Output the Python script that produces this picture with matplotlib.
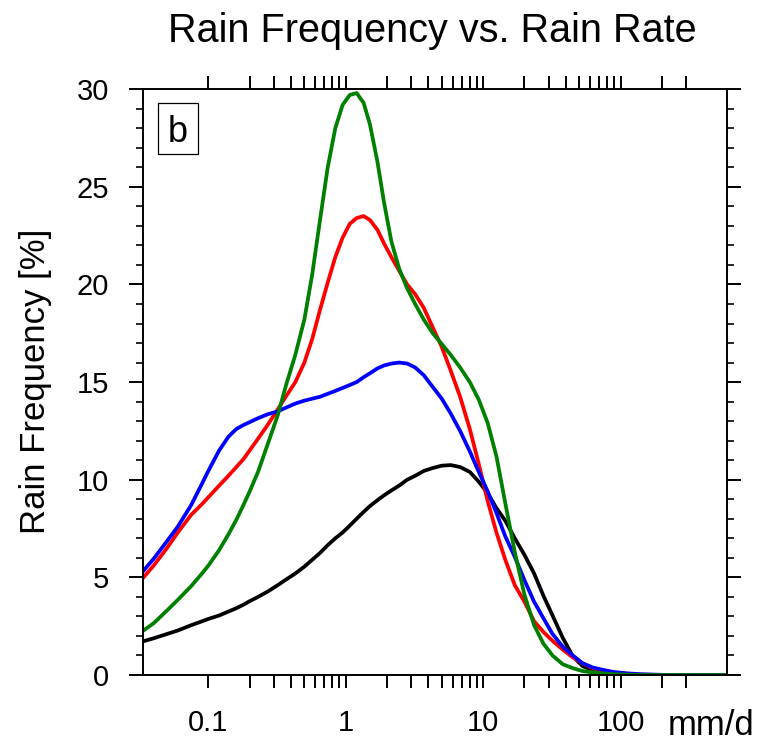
import matplotlib
matplotlib.use("Agg")
import matplotlib.pyplot as plt
from matplotlib.patches import Rectangle
from matplotlib.ticker import FixedLocator, NullFormatter

plt.rcParams['font.family'] = ['Liberation Sans', 'DejaVu Sans']

# rain rate (mm/d) and frequency (%)
rate = [0.0333, 0.04, 0.05, 0.06, 0.075, 0.09, 0.1, 0.12, 0.14, 0.16, 0.18, 0.2, 0.23, 0.27,
        0.32, 0.37, 0.43, 0.5, 0.57, 0.65, 0.74, 0.84, 0.95, 1.07, 1.2, 1.35, 1.5, 1.7, 1.9,
        2.15, 2.45, 2.8, 3.2, 3.7, 4.3, 5.0, 5.8, 6.8, 8.0, 9.3, 10.8, 12.5, 14.5, 17, 20,
        23.5, 27.5, 32, 38, 45, 53, 63, 75, 90, 110, 140, 200, 300, 593]
freq_black = [1.72, 1.88, 2.1, 2.28, 2.55, 2.75, 2.87, 3.05, 3.25, 3.42, 3.6, 3.78, 4.0, 4.27,
              4.6, 4.9, 5.2, 5.55, 5.9, 6.25, 6.65, 7.0, 7.3, 7.65, 8.0, 8.35, 8.65, 8.95, 9.2,
              9.45, 9.7, 10.0, 10.2, 10.45, 10.6, 10.72, 10.75, 10.65, 10.4, 9.9, 9.3, 8.55, 7.9, 7.0, 6.15,
              5.2, 4.05, 3.05, 1.9, 0.95, 0.45, 0.25, 0.15, 0.07, 0.03, 0.01, 0.0, 0.0, 0.0]
freq_red = [4.95, 5.6, 6.5, 7.3, 8.2, 8.75, 9.1, 9.7, 10.2, 10.65, 11.05, 11.5, 12.1, 12.8,
            13.6, 14.3, 15.0, 16.0, 17.2, 18.7, 20.1, 21.4, 22.4, 23.1, 23.4, 23.5, 23.3, 22.8, 22.1,
            21.4, 20.7, 20.0, 19.5, 18.8, 17.8, 16.8, 15.6, 14.25, 12.6, 10.8, 8.9, 7.3, 5.9, 4.6, 3.75,
            2.75, 2.2, 1.75, 1.3, 0.9, 0.6, 0.34, 0.22, 0.13, 0.06, 0.02, 0.0, 0.0, 0.0]
freq_blue = [5.29, 5.95, 6.85, 7.6, 8.7, 9.8, 10.45, 11.5, 12.2, 12.6, 12.8, 12.95, 13.15, 13.35,
             13.5, 13.7, 13.9, 14.05, 14.15, 14.25, 14.4, 14.55, 14.7, 14.85, 15.0, 15.25, 15.45, 15.7, 15.85,
             15.95, 16.0, 15.95, 15.75, 15.35, 14.75, 14.15, 13.4, 12.5, 11.45, 10.4, 9.4, 8.3, 7.1, 6.05, 4.85,
             3.75, 2.9, 2.1, 1.45, 1.0, 0.6, 0.38, 0.26, 0.15, 0.09, 0.04, 0.01, 0.0, 0.0]
freq_green = [2.25, 2.65, 3.3, 3.85, 4.55, 5.2, 5.6, 6.4, 7.2, 7.95, 8.7, 9.4, 10.4, 11.8,
              13.3, 14.9, 16.4, 18.2, 20.5, 23.3, 26.0, 28.0, 29.2, 29.7, 29.8, 29.3, 28.2, 26.3, 24.2,
              22.2, 20.8, 19.8, 19.0, 18.2, 17.5, 16.95, 16.4, 15.75, 15.0, 14.1, 12.9, 11.2, 8.8, 6.3, 4.1,
              2.55, 1.6, 1.0, 0.55, 0.35, 0.2, 0.13, 0.08, 0.04, 0.02, 0.0, 0.0, 0.0, 0.0]

xmajor = [0.1, 1, 10, 100]
xminor = [0.2, 0.3, 0.4, 0.5, 0.6, 0.7, 0.8, 0.9, 2, 3, 4, 5, 6, 7, 8, 9,
          20, 30, 40, 50, 60, 70, 80, 90, 200, 300]
xlabels = ["0.1", "1", "10", "100"]

fig = plt.figure(figsize=(7.61, 7.43), dpi=100)
ax = fig.add_axes([0.1875, 0.0915, 0.7675, 0.7885])

lw = 2.7
ax.plot(rate, freq_black, color="black", lw=lw)
ax.plot(rate, freq_red, color="red", lw=lw)
ax.plot(rate, freq_blue, color="blue", lw=lw)
ax.plot(rate, freq_green, color="green", lw=lw)

ax.set_xscale("log")
ax.set_xlim(0.0333, 593)
ax.set_ylim(0, 30)

ax.xaxis.set_major_locator(FixedLocator(xmajor))
ax.xaxis.set_minor_locator(FixedLocator(xminor))
ax.xaxis.set_minor_formatter(NullFormatter())
ax.set_xticklabels(xlabels)
ax.set_yticks([0, 5, 10, 15, 20, 25, 30])
ax.yaxis.set_minor_locator(FixedLocator(range(0, 31)))

for s in ax.spines.values():
    s.set_linewidth(1.4)

ax.tick_params(axis="x", which="both", direction="out", length=9.5, width=1.4,
               top=True, labelsize=21, pad=15)
ax.tick_params(axis="y", which="major", direction="out", length=10, width=1.4,
               right=True, labelsize=21, pad=14)
ax.tick_params(axis="y", which="minor", direction="out", length=5, width=1.2, right=True)

# panel label in a box
ax.add_patch(Rectangle((0.0257, 0.889), 0.069, 0.0866, transform=ax.transAxes,
                       fc="white", ec="black", lw=0.9, zorder=5))
ax.text(0.060, 0.910, "b", transform=ax.transAxes, fontsize=26, ha="center",
        va="baseline", zorder=6)

fig.text(0.568, 0.958, "Rain Frequency vs. Rain Rate", fontsize=28.5, ha="center", va="center")
fig.text(0.046, 0.487, "Rain Frequency [%]", fontsize=25, rotation=90, ha="center", va="center")
fig.text(0.935, 0.023, "mm/d", fontsize=25, ha="center", va="center")

fig.savefig("out.png", dpi=100)
